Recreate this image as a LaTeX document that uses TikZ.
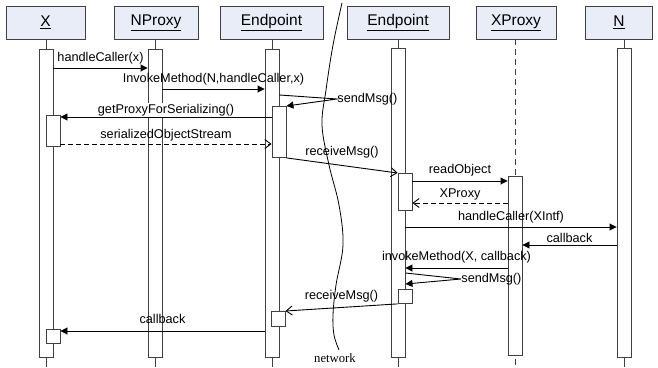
\documentclass[tikz,border=0pt]{standalone}
\usepackage{fontspec}
\setmainfont{Liberation Sans}
\newfontfamily\netfont{Liberation Serif}
\usetikzlibrary{arrows.meta}
\definecolor{headfill}{HTML}{E8EDF8}
\definecolor{edge}{HTML}{404040}
\newcommand\headfont{\fontsize{15.5}{18}\selectfont}
\newcommand\msgfont{\fontsize{12.7}{15}\selectfont}
\tikzset{
  head/.style={draw=edge, fill=headfill, minimum height=33pt, inner sep=0pt, font=\headfont},
  bar/.style={draw=edge, fill=white, minimum width=14pt, inner sep=0pt, anchor=north},
  life/.style={draw=edge},
  call/.style={-{Triangle[length=7pt,width=7pt]}},
  reply/.style={dash pattern=on 5pt off 3pt, -{Straight Barb[length=6pt,width=9pt]}},
  async/.style={-{Straight Barb[length=6pt,width=9pt]}},
  msglabel/.style={font=\msgfont, inner sep=1pt, anchor=base, yshift=#1},
  msglabel/.default=7pt,
  selflabel/.style={font=\msgfont, inner sep=0pt, anchor=west}
}
\begin{document}
\begin{tikzpicture}[x=1pt, y=-1pt, line width=0.9pt]
  \useasboundingbox (0,0) rectangle (658,367);
  \node[head, minimum width=79pt] (hx) at (45.5,22.5) {\underline{X}};
  \node[head, minimum width=84pt] (hnp) at (156,22.5) {\underline{NProxy}};
  \node[head, minimum width=103pt] (hep) at (271.5,22.5) {\underline{Endpoint}};
  \node[head, minimum width=102pt] (hep2) at (398,22.5) {\underline{Endpoint}};
  \node[head, minimum width=80pt] (hxp) at (516,22.5) {\underline{XProxy}};
  \node[head, minimum width=67pt] (hn) at (619,22.5) {\underline{N}};
  \coordinate (ex) at (46,367);
  \coordinate (enp) at (155,367);
  \coordinate (eep) at (272,367);
  \coordinate (eep2) at (398,367);
  \coordinate (exp) at (515,367);
  \coordinate (en) at (624,367);
  \draw[life] (hx.south -| ex) -- (ex);
  \draw[life] (hnp.south -| enp) -- (enp);
  \draw[life] (hep.south -| eep) -- (eep);
  \draw[life] (hep2.south -| eep2) -- (eep2);
  \draw[life, dash pattern=on 6pt off 4pt] (hxp.south -| exp) -- (exp);
  \draw[life] (hn.south -| en) -- (en);
  \node[bar, minimum height=308pt] (bx) at (46,49) {};
  \node[bar, minimum height=308pt] (bnp) at (155,49) {};
  \node[bar, minimum height=308pt] (bep) at (272,49) {};
  \node[bar, minimum height=309pt] (bf) at (398,48) {};
  \node[bar, minimum height=179pt] (bxp) at (515,176) {};
  \node[bar, minimum height=309pt] (bn) at (624,48) {};
  \node[bar, minimum height=31pt] (bx1) at (53,115) {};
  \node[bar, minimum height=14pt] (bx2) at (53,329) {};
  \node[bar, minimum height=51pt] (be1) at (279,106) {};
  \node[bar, minimum height=15pt] (be2) at (278,311) {};
  \node[bar, minimum height=37pt] (bf1) at (405,173) {};
  \node[bar, minimum height=14pt] (bf2) at (405,289) {};
  \coordinate (r1) at (0,68);
  \coordinate (r2) at (0,89);
  \coordinate (r3) at (0,95);
  \coordinate (s1) at (337,99);
  \coordinate (r4) at (0,117);
  \coordinate (r5) at (0,144);
  \coordinate (r6) at (0,181);
  \coordinate (r7) at (0,203);
  \coordinate (r8) at (0,227);
  \coordinate (r9) at (0,245);
  \coordinate (r10) at (0,268);
  \coordinate (r11) at (0,273);
  \coordinate (s2) at (461,279);
  \coordinate (r12) at (0,284);
  \coordinate (r13) at (0,331);
  \draw[call] (bx.east |- r1) -- (bnp.west |- r1) node[msglabel, midway] {handleCaller(x)};
  \draw[call] (bnp.east |- r2) -- (bep.west |- r2) node[msglabel, midway] {InvokeMethod(N,handleCaller,x)};
  \draw[call] (bep.east |- r3) -- (s1) node[selflabel] {sendMsg()} -- (be1.north east);
  \draw[call] (be1.west |- r4) -- (bx1.east |- r4) node[msglabel=4pt, midway, fill=white] {getProxyForSerializing()};
  \draw[reply] (bx1.east |- r5) -- (be1.west |- r5) node[msglabel=6pt, midway] {serializedObjectStream};
  \draw[async] (be1.south east) -- (bf1.north west) node[msglabel=10pt, midway] {receiveMsg()};
  \draw[call] (bf1.east |- r6) -- (bxp.west |- r6) node[msglabel=8pt, midway] {readObject};
  \draw[reply] (bxp.west |- r7) -- (bf1.east |- r7) node[msglabel=6pt, midway] {XProxy};
  \draw[call] (bf.east |- r8) -- (bn.west |- r8) node[msglabel, midway] {handleCaller(XIntf)};
  \draw[call] (bn.west |- r9) -- (bxp.east |- r9) node[msglabel=3pt, midway, fill=white] {callback};
  \draw[call] (bxp.west |- r10) -- (bf.east |- r10) node[msglabel=8pt, midway] {invokeMethod(X, callback)};
  \draw[call] (bf.east |- r11) -- (s2) node[selflabel] {sendMsg()} -- (bf.east |- r12);
  \draw[async] (bf2.south west) -- (be2.north east) node[msglabel=8pt, midway] {receiveMsg()};
  \draw[call] (bep.west |- r13) -- (bx2.east |- r13) node[msglabel=8pt, midway] {callback};
  \draw[line width=0.8pt] plot[smooth, tension=0.6] coordinates {(342,3) (333,45) (326,90) (322,125) (329,165) (339,205) (343,245) (336,285) (333,315) (334,335) (339,350)};
  \node[font=\netfont\msgfont, anchor=base, inner sep=0pt] (net) at (335,362) {network};
\end{tikzpicture}
\end{document}
